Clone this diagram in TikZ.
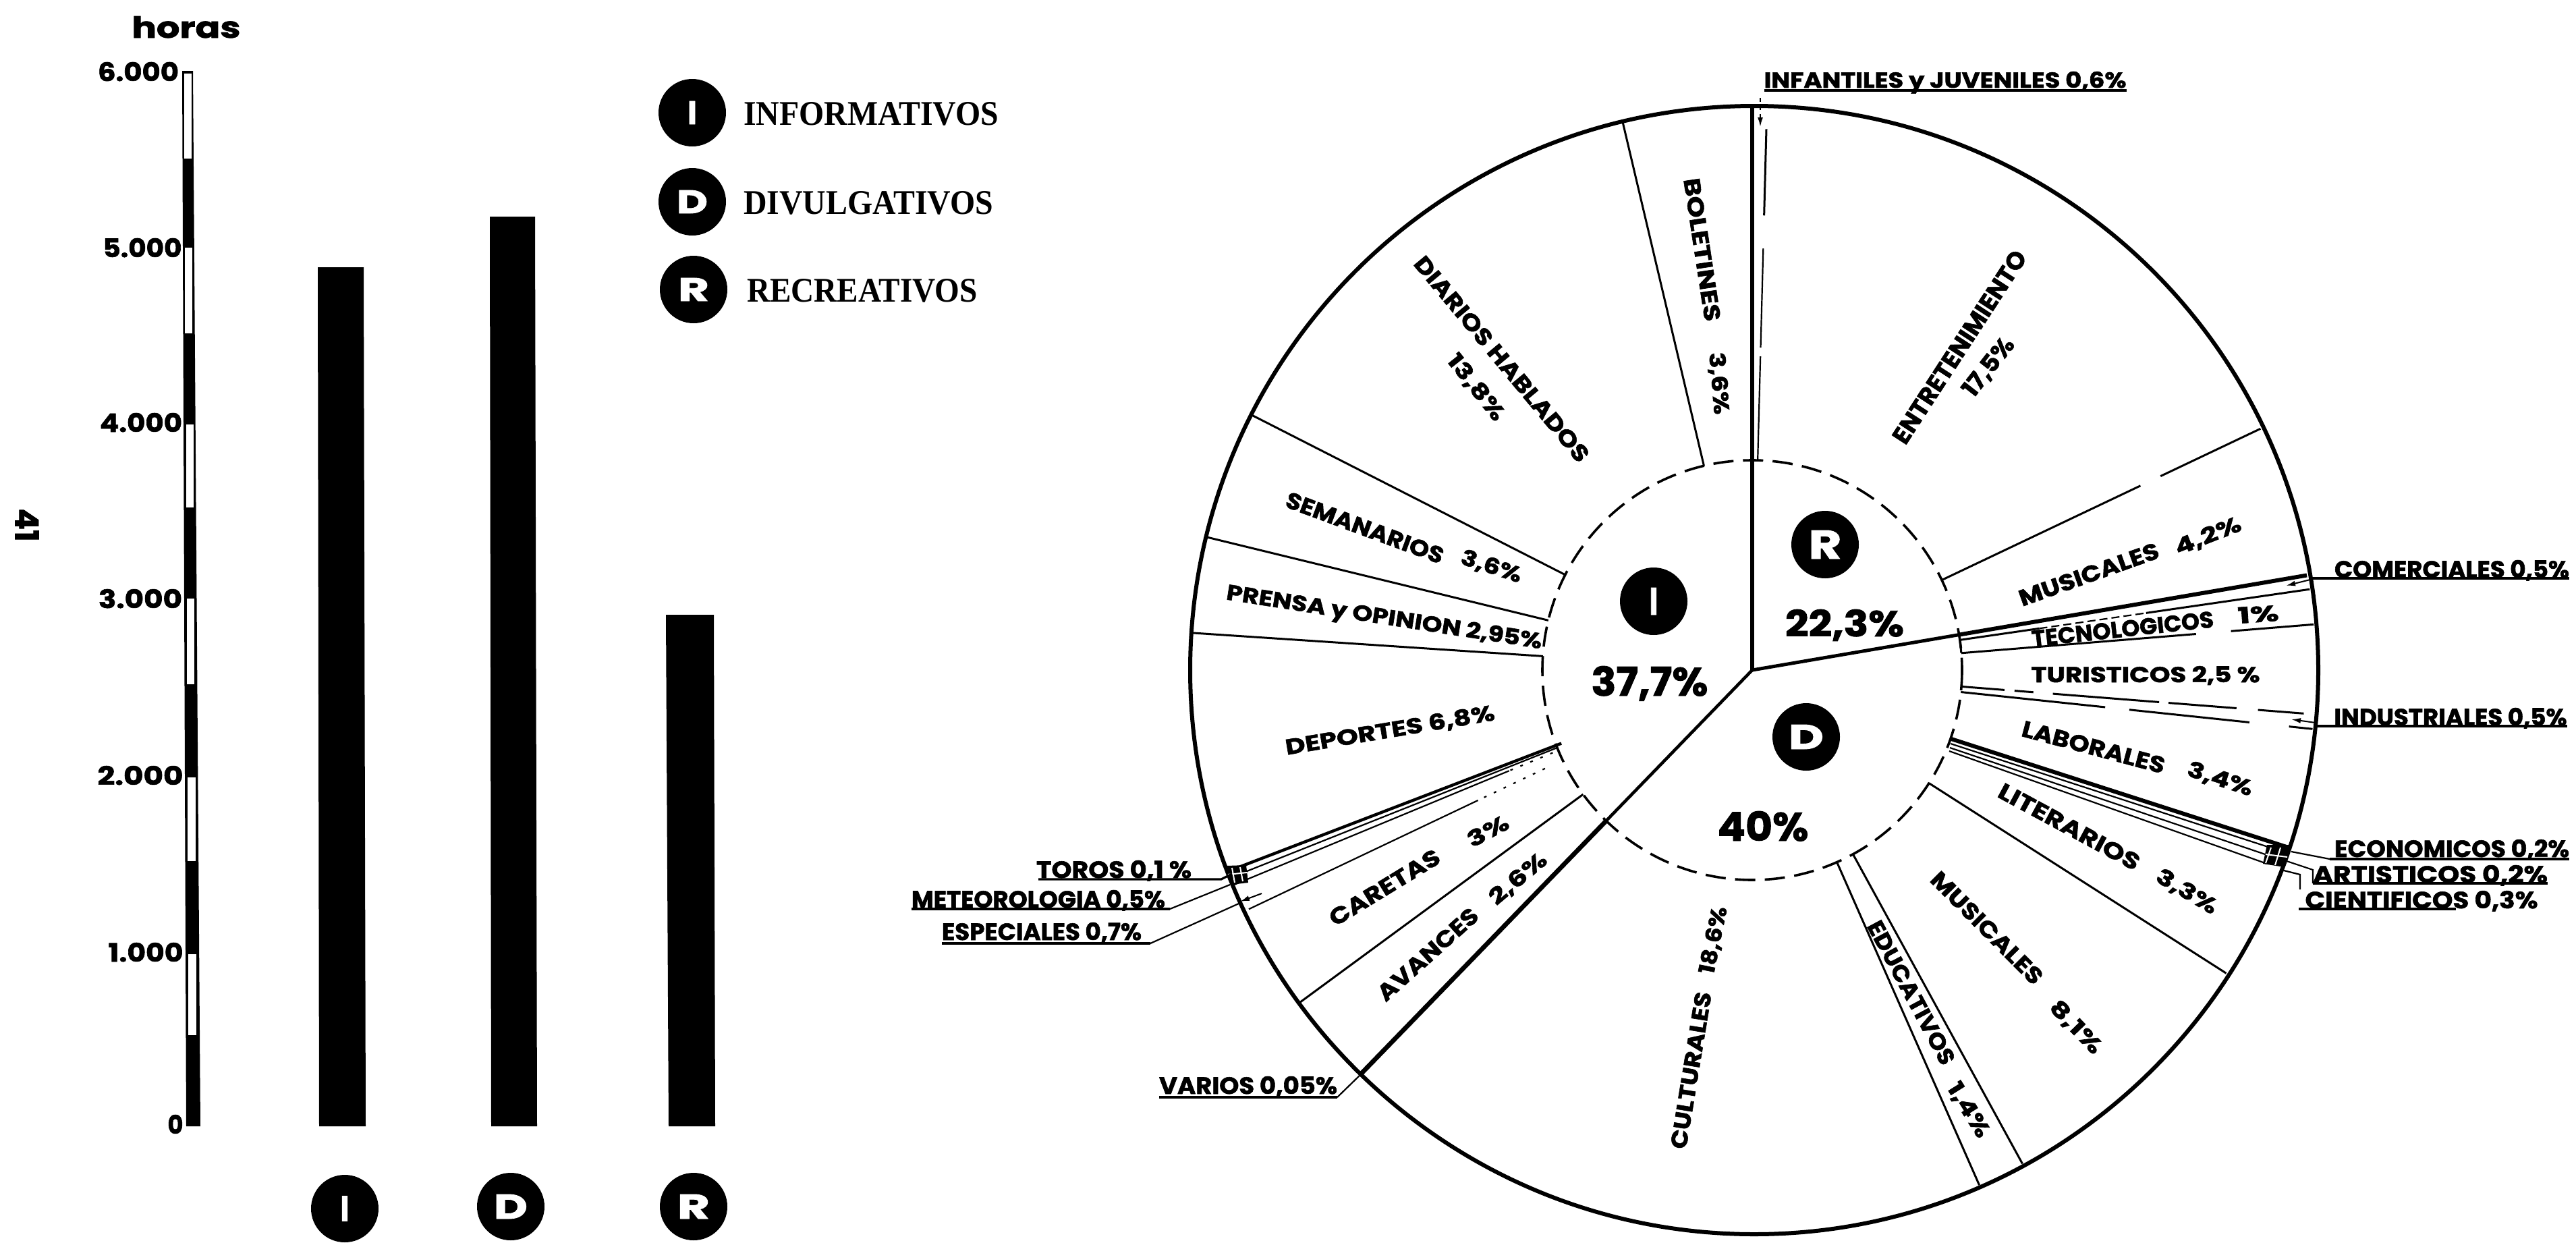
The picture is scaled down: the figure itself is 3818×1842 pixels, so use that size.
\documentclass[tikz,border=0pt]{standalone}
\usepackage{fontspec}
\usepackage{graphicx}
\usetikzlibrary{arrows.meta}
\newfontfamily\lblbase{Poppins}[BoldFeatures={FakeBold=1.6}]
\newfontfamily\legfont{Liberation Serif}
\newcommand\lblfont{\lblbase\bfseries}
\newlength\pxu
\setlength\pxu{0.5pt}
\newlength\fsz
\newcommand\sized[1]{\setlength\fsz{#1\pxu}\setlength\fsz{1.43\fsz}\fontsize{\fsz}{\fsz}\selectfont}
\newcommand\lblnode[7]{\node[lbl,rotate=#4] (#1) at (#2,#3) {\raisebox{0pt}[#6\pxu][0pt]{\resizebox{#5\pxu}{#6\pxu}{\sized{#6}\lblfont #7}}};}
\newcommand\blobnode[6]{\node[blob] (#1) at (#2,#3) {\resizebox{#4\pxu}{#5\pxu}{\sized{#5}\lblfont\color{white}#6}};}
\newcommand\Pol[2]{({2597+(#2)*cos(#1)},{993-(#2)*sin(#1)})}
\tikzset{
  lbl/.style={inner sep=0pt,outer sep=0pt,anchor=center},
  blob/.style={circle,fill=black,minimum size=50pt,inner sep=0pt},
  rim/.style={line width=3pt},
  heavy/.style={line width=3pt},
  fine/.style={line width=1.5pt},
  hair/.style={line width=1.1pt},
  uline/.style={line width=1.6pt},
  dashring/.style={line width=1.8pt,dash pattern=on 15pt off 7pt},
  dotline/.style={line width=1.1pt,dash pattern=on 2pt off 6pt},
  tip/.style={-{Latex[length=7pt,width=4pt]},line width=1pt}
}
\begin{document}
\begin{tikzpicture}[x=0.5pt,y=-0.5pt]
\useasboundingbox (0,0) rectangle (3818,1842);
\fill[white] (0,0) rectangle (3818,1842);

% ---- bar chart axis
\fill (270,105)--(286,105)--(297,1669)--(276,1669)--cycle;
\foreach \ya/\yb in {109/235,367/494,629/752,887/1014,1152/1276,1414/1534}{
  \fill[white] ({273+\ya*0.004},\ya) rectangle ({283+\ya*0.006},\yb);
}
% bars
\fill (471,396)--(539,396)--(542,1669)--(473,1669)--cycle;
\fill (726,321)--(793,321)--(796,1669)--(728,1669)--cycle;
\fill (987,911)--(1058,911)--(1060,1669)--(991,1669)--cycle;

\lblnode{horas}{276}{40}{0}{161}{32}{horas}
\lblnode{ax6}{205}{106}{0}{120}{28}{6.000}
\lblnode{ax5}{211}{367}{0}{117}{28}{5.000}
\lblnode{ax4}{209}{626}{0}{122}{28}{4.000}
\lblnode{ax3}{208}{887}{0}{124}{28}{3.000}
\lblnode{ax2}{208}{1149}{0}{127}{28}{2.000}
\lblnode{ax1}{216}{1411}{0}{111}{28}{1.000}
\lblnode{ax0}{260}{1666}{0}{23}{28}{0}
\lblnode{page}{40}{778}{-90}{49}{35}{41}

\blobnode{barI}{511}{1791}{13}{37}{I}
\blobnode{barD}{757}{1788}{50}{36}{D}
\blobnode{barR}{1028}{1788}{48}{36}{R}

\blobnode{legI}{1026}{167}{14}{34}{I}
\blobnode{legD}{1026}{299}{46}{34}{D}
\blobnode{legR}{1028}{429}{46}{34}{R}
\lblnode{legIt}{1291}{168}{0}{378}{34}{\legfont INFORMATIVOS}
\lblnode{legDt}{1287}{300}{0}{370}{34}{\legfont DIVULGATIVOS}
\lblnode{legRt}{1278}{430}{0}{342}{34}{\legfont RECREATIVOS}

% ---- pie
\draw[rim] (2600,993) circle[radius=836];
\draw[dashring] (2597,993) circle[radius=311];
% main sector lines
\draw[heavy] (2597,993) -- \Pol{90}{834};
\draw[line width=2.5pt] (2597,993) -- \Pol{9.7}{311};
\draw[heavy] \Pol{9.7}{311} -- \Pol{9.7}{834};
\draw[line width=2.3pt] (2597,993) -- \Pol{225.9}{311};
\draw[line width=3.4pt] \Pol{225.9}{311} -- \Pol{225.9}{834};

% thin sector lines
\foreach \a in {103.3,153,166.3,176.2,216.3,-32.6,-61.3,-66.2}{
  \draw[fine] \Pol{\a}{311} -- \Pol{\a}{834};
}
\draw[fine] \Pol{25.4}{311} -- \Pol{25.4}{637};
\draw[fine] \Pol{25.4}{670} -- \Pol{25.4}{834};
% infantiles sliver
\draw[hair] \Pol{88.5}{310} -- \Pol{88.5}{465};
\draw[hair] \Pol{88.5}{478} -- \Pol{88.5}{625};
\draw[fine] \Pol{88.5}{674} -- \Pol{88.5}{802};
\coordinate (infa) at (2609,145);
\coordinate (infb) at (2609,188);
\draw[tip,dash pattern=on 3pt off 3pt] (infa) -- (infb);
\draw[uline] (2615,134) -- (3152,134);

% comerciales / tecnologicos
\draw[fine] \Pol{8.25}{311} -- \Pol{8.25}{430};
\draw[hair,dash pattern=on 6pt off 3pt] \Pol{8.25}{430} -- \Pol{8.25}{590};
\draw[fine] \Pol{8.25}{590} -- \Pol{8.25}{835};
\draw[tip] (3424,859) -- (3388,868);
\draw[uline] (3424,857) -- (3808,857);
\draw[fine] \Pol{4.65}{311} -- \Pol{4.65}{660};
\draw[fine] \Pol{4.65}{712} -- \Pol{4.65}{835};
\draw[fine] \Pol{8.25}{311} -- \Pol{4.65}{311};

% turisticos / industriales
\foreach \ra/\rb in {311/375,390/418,447/605,619/720,752/820}{
  \draw[fine] \Pol{-4.5}{\ra} -- \Pol{-4.5}{\rb};
}
\foreach \ra/\rb in {311/526,562/741,800/835}{
  \draw[fine] \Pol{-6}{\ra} -- \Pol{-6}{\rb};
}
\draw[tip] (3432,1071) -- (3396,1066);
\draw[uline] (3432,1076) -- (3805,1076);

% laborales cluster
\draw[line width=3pt] (2892,1095) -- (3392,1256);
\draw[hair] (2891,1102) -- (3383,1262);
\draw[hair] (2890,1108) -- (3372,1271);
\draw[hair] (2889,1113) -- (3360,1280);
\fill (3360,1252)--(3396,1252)--(3386,1285)--(3354,1280)--cycle;
\draw[white,line width=1pt] (3366,1256)--(3358,1279) (3380,1256)--(3372,1282) (3358,1266)--(3390,1270);
% economicos, artisticos, cientificos
\coordinate (eca) at (3396,1262);
\coordinate (ecb) at (3453,1273);
\coordinate (arca) at (3389,1276);
\coordinate (arcb) at (3428,1289);
\coordinate (arcc) at (3428,1309);
\coordinate (cia) at (3381,1289);
\coordinate (cib) at (3409,1296);
\coordinate (cic) at (3409,1318);
\draw[hair] (eca) -- (ecb);
\draw[uline] (ecb) -- (3808,1273);
\draw[hair] (arca) -- (arcb) -- (arcc);
\draw[uline] (arcc) -- (3776,1309);
\draw[hair] (cia) -- (cib) -- (cic);
\draw[uline] (3407,1347) -- (3640,1347);

% toros cluster
\draw[line width=2.2pt] \Pol{201}{303} -- \Pol{201}{830};
\draw[hair] \Pol{201.7}{311} -- \Pol{201.7}{830};
\draw[hair] \Pol{202.5}{390} -- \Pol{202.5}{832};
\draw[dotline] \Pol{202.5}{320} -- \Pol{202.5}{390};
\draw[hair] \Pol{205.4}{450} -- \Pol{205.4}{826};
\draw[dotline] \Pol{205.4}{340} -- \Pol{205.4}{450};
\fill (1818,1283)--(1847,1282)--(1850,1308)--(1824,1311)--cycle;
\draw[white,line width=1pt] (1826,1286)--(1830,1308) (1838,1285)--(1842,1306) (1820,1296)--(1848,1293);
\draw[tip] (1870,1324) -- (1838,1336);
% leaders
\coordinate (toa) at (1539,1303);
\coordinate (tob) at (1810,1303);
\coordinate (toc) at (1826,1295);
\draw[uline] (toa) -- (tob) -- (toc);
\coordinate (mea) at (1351,1347);
\coordinate (meb) at (1734,1347);
\coordinate (mec) at (1823,1311);
\draw[uline] (mea) -- (meb);
\draw[hair] (meb) -- (mec);
\coordinate (esa) at (1396,1398);
\coordinate (esb) at (1705,1398);
\coordinate (esc) at (1836,1339);
\draw[uline] (esa) -- (esb);
\draw[hair] (esb) -- (esc);
\coordinate (vaa) at (1718,1626);
\coordinate (vab) at (1982,1626);
\coordinate (vac) at (2019,1590);
\draw[uline] (vaa) -- (vab);
\draw[hair] (vab) -- (vac);

% centre marks
\blobnode{pieI}{2451}{891}{13}{40}{I}
\blobnode{pieD}{2677}{1092}{52}{36}{D}
\blobnode{pieR}{2705}{807}{49}{42}{R}
\lblnode{pctR}{2734}{923}{0}{176}{40}{22,3\%}
\lblnode{pctI}{2445}{1009}{0}{173}{44}{37,7\%}
\lblnode{pctD}{2613}{1224}{0}{135}{44}{40\%}

% outer free labels
\lblnode{inf}{2883}{118}{0}{537}{24}{INFANTILES y JUVENILES 0,6\%}
\lblnode{com}{3634}{843}{0}{348}{26}{COMERCIALES 0,5\%}
\lblnode{ind}{3632}{1062}{0}{345}{26}{INDUSTRIALES 0,5\%}
\lblnode{eco}{3634}{1257}{0}{348}{26}{ECONOMICOS 0,2\%}
\lblnode{art}{3602}{1295}{0}{348}{26}{ARTISTICOS 0,2\%}
\lblnode{cie}{3589}{1333}{0}{345}{26}{CIENTIFICOS 0,3\%}
\lblnode{tor}{1651}{1288}{0}{230}{26}{TOROS 0,1 \%}
\lblnode{met}{1539}{1332}{0}{376}{26}{METEOROLOGIA 0,5\%}
\lblnode{esp}{1544}{1380}{0}{296}{26}{ESPECIALES 0,7\%}
\lblnode{var}{1850}{1608}{0}{264}{26}{VARIOS 0,05\%}

% labels in sectors
\lblnode{ent}{2904}{514}{57}{333}{26}{ENTRETENIMIENTO}
\lblnode{entp}{2946}{543}{52}{101}{26}{17,5\%}
\lblnode{bol}{2523}{370}{-81.4}{214}{24}{BOLETINES}
\lblnode{bolp}{2549}{568}{-85}{92}{24}{3,6\%}
\lblnode{dia}{2226}{532}{-50.3}{385}{24}{DIARIOS HABLADOS}
\lblnode{diap}{2189}{573}{-51.6}{117}{24}{13,8\%}
\lblnode{sem}{2023}{782}{-20.3}{247}{24}{SEMANARIOS}
\lblnode{semp}{2211}{838}{-18}{93}{24}{3,6\%}
\lblnode{pre}{2052}{913}{-8.9}{473}{24}{PRENSA y OPINION 2,95\%}
\lblnode{dep}{2060}{1081}{9.5}{314}{24}{DEPORTES 6,8\%}
\lblnode{car}{2052}{1315}{31.4}{186}{24}{CARETAS}
\lblnode{carp}{2205}{1231}{28}{65}{24}{3\%}
\lblnode{ava}{2116}{1414}{41.8}{188}{24}{AVANCES}
\lblnode{avap}{2249}{1301}{40}{101}{24}{2,6\%}
\lblnode{cul}{2506}{1586}{80.7}{235}{24}{CULTURALES}
\lblnode{culp}{2538}{1393}{78.6}{101}{24}{18,6\%}
\lblnode{edu}{2833}{1471}{-61.8}{237}{24}{EDUCATIVOS}
\lblnode{edup}{2919}{1644}{-58}{90}{24}{1,4\%}
\lblnode{mus}{2945}{1375}{-45.2}{220}{24}{MUSICALES}
\lblnode{musp}{3078}{1521}{-46}{97}{24}{8,1\%}
\lblnode{lit}{3067}{1225}{-28.4}{233}{24}{LITERARIOS}
\lblnode{litp}{3242}{1320}{-30.7}{100}{24}{3,3\%}
\lblnode{lab}{3103}{1107}{-14.9}{218}{24}{LABORALES}
\lblnode{labp}{3291}{1153}{-18}{100}{24}{3,4\%}
\lblnode{tur}{3180}{999}{0}{339}{24}{TURISTICOS 2,5 \%}
\lblnode{mu2}{3096}{851}{19.6}{218}{24}{MUSICALES}
\lblnode{mu2p}{3272}{793}{21.6}{103}{24}{4,2\%}
\lblnode{tec}{3146}{932}{6.2}{271}{24}{TECNOLOGICOS}
\lblnode{tecp}{3347}{910}{4}{61}{24}{1\%}
\end{tikzpicture}
\end{document}
